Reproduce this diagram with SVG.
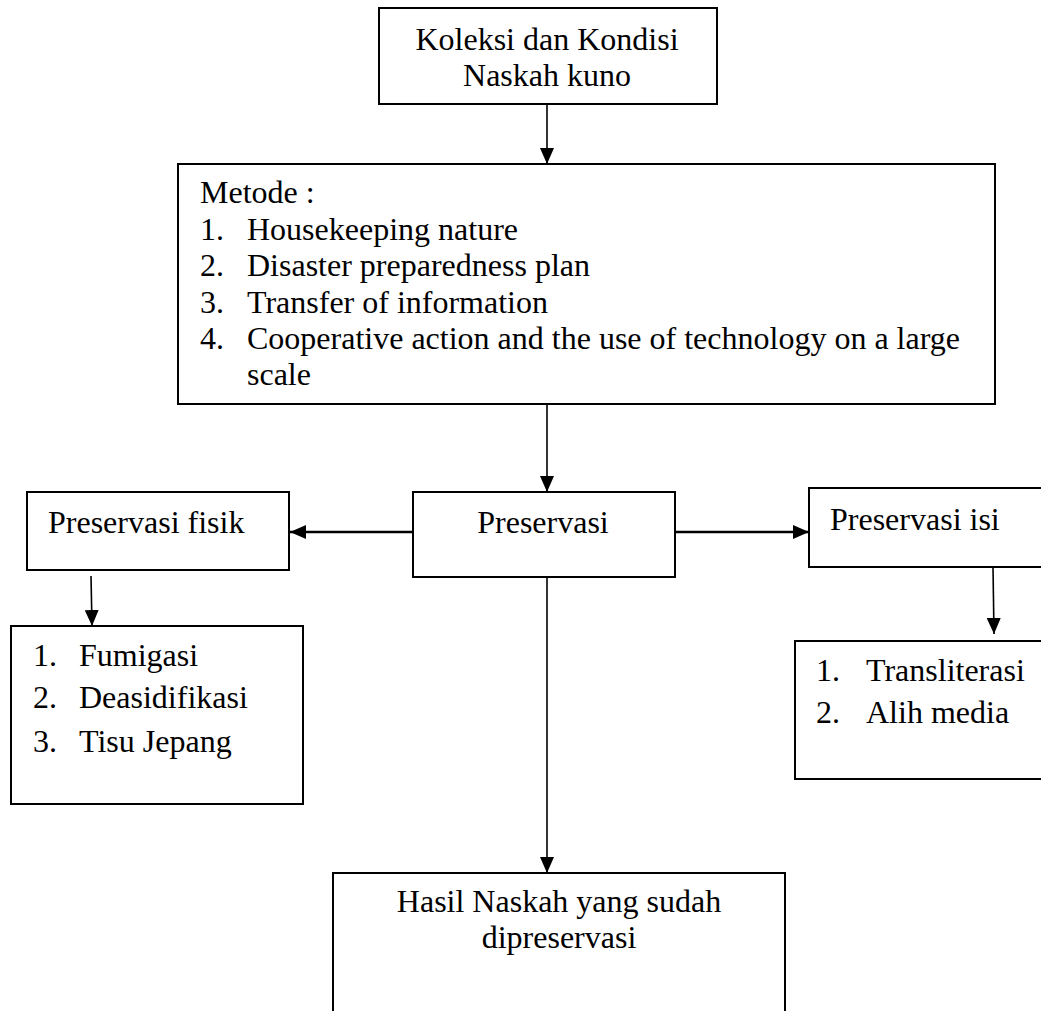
<svg xmlns="http://www.w3.org/2000/svg" width="1041" height="1011" viewBox="0 0 1041 1011">
<style>
.box{fill:#fff;stroke:#000;stroke-width:2}
.t{font-family:"Liberation Serif","Times New Roman",serif;font-size:32px;fill:#000}
.c{text-anchor:middle}
.con{fill:none;stroke:#000;stroke-width:1.6}
.thick{stroke-width:2.6}
</style>
<defs>
<marker id="ah" markerUnits="userSpaceOnUse" markerWidth="16" markerHeight="14" refX="16" refY="7" orient="auto">
<path d="M0,0 L16,7 L0,14 z" fill="#000"/>
</marker>
</defs>
<rect width="1041" height="1011" fill="#fff"/>
<g id="connectors">
<line class="con" x1="547" y1="104" x2="547" y2="164" marker-end="url(#ah)"/>
<line class="con" x1="547" y1="404" x2="547" y2="492" marker-end="url(#ah)"/>
<line class="con thick" x1="413" y1="532" x2="290" y2="532" marker-end="url(#ah)"/>
<line class="con thick" x1="675" y1="532" x2="809" y2="532" marker-end="url(#ah)"/>
<line class="con" x1="91" y1="576" x2="92" y2="626" marker-end="url(#ah)"/>
<line class="con" x1="993" y1="567" x2="994" y2="634" marker-end="url(#ah)"/>
<line class="con" x1="547" y1="577" x2="547" y2="873" marker-end="url(#ah)"/>
</g>
<g id="node-koleksi">
<rect class="box" x="379" y="8" width="338" height="96"/>
<text class="t c" x="547" y="50">Koleksi dan Kondisi</text>
<text class="t c" x="547" y="86">Naskah kuno</text>
</g>
<g id="node-metode">
<rect class="box" x="178" y="164" width="817" height="240"/>
<text class="t" x="200" y="203">Metode :</text>
<text class="t" x="200" y="240">1.</text><text class="t" x="247" y="240">Housekeeping nature</text>
<text class="t" x="200" y="276">2.</text><text class="t" x="247" y="276">Disaster preparedness plan</text>
<text class="t" x="200" y="313">3.</text><text class="t" x="247" y="313">Transfer of information</text>
<text class="t" x="200" y="349">4.</text><text class="t" x="247" y="349">Cooperative action and the use of technology on a large</text>
<text class="t" x="247" y="385">scale</text>
</g>
<g id="node-preservasi-fisik">
<rect class="box" x="27" y="492" width="262" height="78"/>
<text class="t" x="48" y="533">Preservasi fisik</text>
</g>
<g id="node-preservasi">
<rect class="box" x="413" y="492" width="262" height="85"/>
<text class="t c" x="543" y="533">Preservasi</text>
</g>
<g id="node-preservasi-isi">
<rect class="box" x="809" y="488" width="245" height="79"/>
<text class="t" x="830" y="530">Preservasi isi</text>
</g>
<g id="node-fisik-list">
<rect class="box" x="11" y="626" width="292" height="178"/>
<text class="t" x="33" y="666">1.</text><text class="t" x="79" y="666">Fumigasi</text>
<text class="t" x="33" y="708">2.</text><text class="t" x="79" y="708">Deasidifikasi</text>
<text class="t" x="33" y="752">3.</text><text class="t" x="79" y="752">Tisu Jepang</text>
</g>
<g id="node-isi-list">
<rect class="box" x="795" y="641" width="259" height="138"/>
<text class="t" x="816" y="681">1.</text><text class="t" x="866" y="681">Transliterasi</text>
<text class="t" x="816" y="723">2.</text><text class="t" x="866" y="723">Alih media</text>
</g>
<g id="node-hasil">
<rect class="box" x="333" y="873" width="452" height="150"/>
<text class="t c" x="559" y="912">Hasil Naskah yang sudah</text>
<text class="t c" x="559" y="948">dipreservasi</text>
</g>
</svg>
